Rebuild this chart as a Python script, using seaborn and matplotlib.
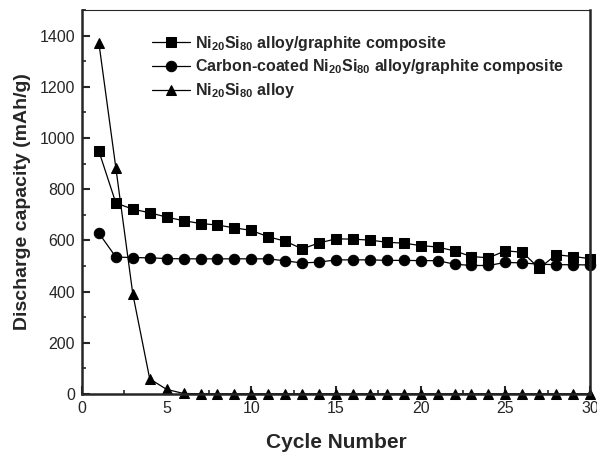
import numpy as np
import pandas as pd
import matplotlib
matplotlib.use("Agg")
import matplotlib.pyplot as plt
from matplotlib.ticker import MultipleLocator
import seaborn as sns

cycles = list(range(1, 31))
composite = [948, 746, 722, 708, 691, 677, 666, 660, 649, 639, 614, 597, 567, 590, 606,
             605, 601, 593, 589, 580, 574, 559, 537, 532, 559, 554, 491, 544, 537, 529]
coated = [628, 535, 533, 532, 529, 528, 528, 528, 528, 528, 528, 520, 512, 515, 524,
          524, 524, 522, 522, 521, 521, 507, 502, 502, 514, 512, 507, 505, 505, 504]
alloy = [1370, 883, 391, 59, 18, 2, 1, 1, 1, 1, 1, 1, 1, 1, 1,
         1, 1, 1, 1, 1, 1, 1, 1, 1, 1, 1, 1, 1, 1, 1]
labels = [r"Ni$_{20}$Si$_{80}$ alloy/graphite composite",
          r"Carbon-coated Ni$_{20}$Si$_{80}$ alloy/graphite composite",
          r"Ni$_{20}$Si$_{80}$ alloy"]
xlabel = "Cycle Number"
ylabel = "Discharge capacity (mAh/g)"

sns.set_theme(style="ticks")
plt.rcParams["font.family"] = ["Liberation Sans", "DejaVu Sans"]
plt.rcParams["mathtext.fontset"] = "custom"
plt.rcParams["mathtext.rm"] = "Liberation Sans:bold"
plt.rcParams["mathtext.it"] = "Liberation Sans:bold"
plt.rcParams["mathtext.bf"] = "Liberation Sans:bold"

fig = plt.figure(figsize=(5.97, 4.55), dpi=100)
ax = fig.add_axes([82/597, 61/455, 508/597, 384/455])

df = pd.DataFrame({"x": cycles, "a": composite, "b": coated, "c": alloy})
for col, mk, lab in zip(["a", "b", "c"], ["s", "o", "^"], labels):
    sns.lineplot(data=df, x="x", y=col, ax=ax, color="black", marker=mk,
                 markersize=7.5, markeredgecolor="black", linewidth=0.9,
                 label=lab, clip_on=False)

ax.set_xlim(0, 30)
ax.set_ylim(0, 1500)
ax.xaxis.set_major_locator(MultipleLocator(5))
ax.xaxis.set_minor_locator(MultipleLocator(2.5))
ax.yaxis.set_minor_locator(MultipleLocator(100))
ax.set_yticks([0, 200, 400, 600, 800, 1000, 1200, 1400])
ax.tick_params(which="major", direction="in", length=6, width=1.5, labelsize=11.5, pad=5)
ax.tick_params(which="minor", direction="in", length=3, width=1.2)
for s in ["left", "bottom", "right"]:
    ax.spines[s].set_linewidth(1.8)
ax.spines["top"].set_linewidth(0.8)
ax.set_xlabel(xlabel, fontsize=15, fontweight="bold", labelpad=12)
ax.set_ylabel(ylabel, fontsize=14, fontweight="bold", labelpad=6)

leg = ax.legend(loc="upper left", bbox_to_anchor=(0.125, 0.955), frameon=False,
                prop={"size": 11.5, "weight": "bold"}, handlelength=2.4,
                handletextpad=0.3, labelspacing=0.3, borderaxespad=0)

fig.savefig("out.png", dpi=100)
